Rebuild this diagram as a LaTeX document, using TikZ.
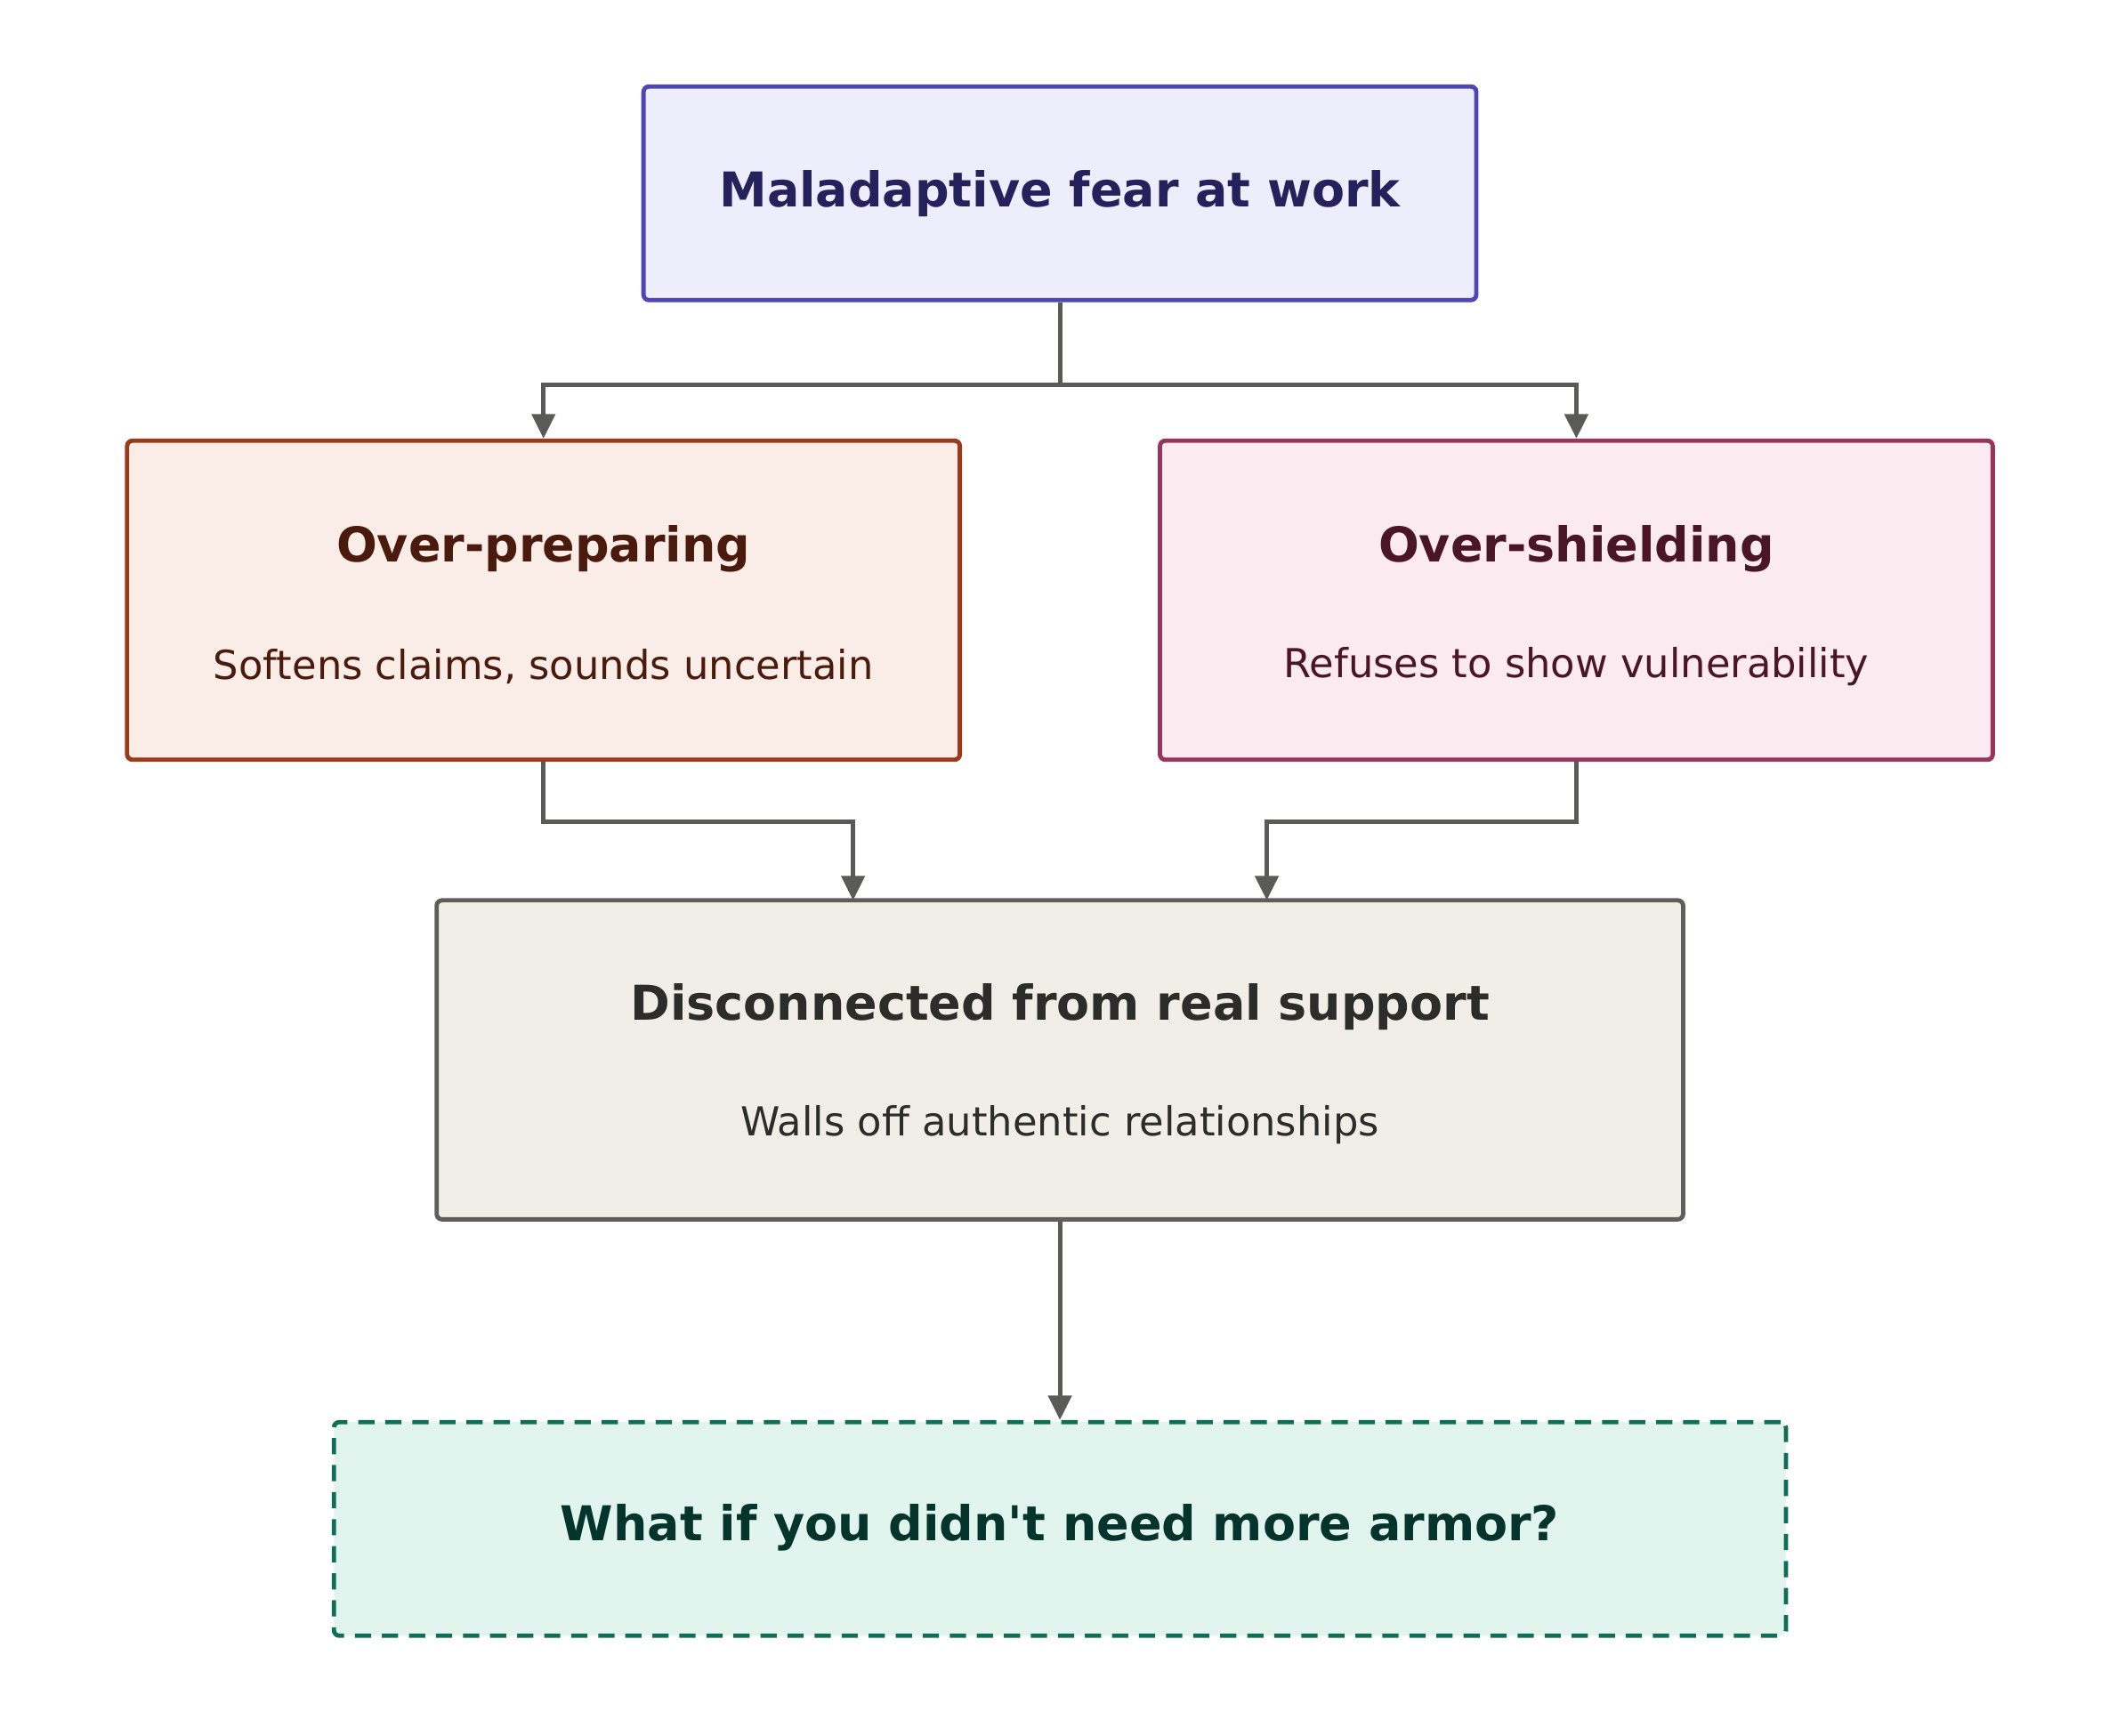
\documentclass[tikz,border=0pt]{standalone}
\usepackage{fontspec}
\setmainfont{DejaVu Sans}
\usetikzlibrary{arrows.meta}
\definecolor{tF}{HTML}{EEEDFC}\definecolor{tD}{HTML}{4F46B5}\definecolor{tT}{HTML}{26215C}
\definecolor{lF}{HTML}{FAEDE8}\definecolor{lD}{HTML}{9A3A1A}\definecolor{lT}{HTML}{4A1B0C}
\definecolor{rF}{HTML}{FBEAF0}\definecolor{rD}{HTML}{99355A}\definecolor{rT}{HTML}{4B1528}
\definecolor{mF}{HTML}{F1EEE7}\definecolor{mD}{HTML}{5F5E5A}\definecolor{mT}{HTML}{2C2C2A}
\definecolor{bF}{HTML}{E1F5EE}\definecolor{bD}{HTML}{0F6E56}\definecolor{bT}{HTML}{04342C}
\definecolor{eC}{HTML}{5A5A58}
\begin{document}
\begin{tikzpicture}[x=1pt,y=-1pt,
  box/.style={draw,line width=3.2pt,rounded corners=4pt,inner sep=0pt},
  ttl/.style={font=\fontsize{35.5}{42}\selectfont\bfseries},
  sub/.style={font=\fontsize{29.5}{35}\selectfont},
  edge/.style={draw=eC,line width=3.2pt,-{Triangle[length=18pt,width=17pt]}}]
\useasboundingbox (0,0) rectangle (1560,1284);
\node[box,draw=tD,fill=tF,minimum width=616,minimum height=158] (top) at (784,143) {};
\node[ttl,text=tT] (topt) at (784,143) {Maladaptive fear at work};
\node[box,draw=lD,fill=lF,minimum width=616,minimum height=236] (left) at (402,444) {};
\node[ttl,text=lT] (leftt) at (402,406) {Over-preparing};
\node[sub,text=lT] (lefts) at (402,493) {Softens claims, sounds uncertain};
\node[box,draw=rD,fill=rF,minimum width=616,minimum height=236] (right) at (1166,444) {};
\node[ttl,text=rT] (rightt) at (1166,406) {Over-shielding};
\node[sub,text=rT] (rights) at (1166,493) {Refuses to show vulnerability};
\node[box,draw=mD,fill=mF,minimum width=922,minimum height=236] (mid) at (784,784) {};
\node[ttl,text=mT] (midt) at (784,745) {Disconnected from real support};
\node[sub,text=mT] (mids) at (784,832) {Walls off authentic relationships};
\node[box,draw=bD,fill=bF,dashed,dash pattern=on 12pt off 8pt,minimum width=1074,minimum height=158] (bot) at (784,1131) {};
\node[ttl,text=bT] (bott) at (784,1130) {What if you didn\textquotesingle t need more armor?};
\coordinate (ml) at (631,666); \coordinate (mr) at (937,666);
\draw[edge] (top.south) -- ++(0,61) -| (left.north);
\draw[edge] (top.south) -- ++(0,61) -| (right.north);
\draw[edge] (left.south) -- ++(0,44) -| (ml);
\draw[edge] (right.south) -- ++(0,44) -| (mr);
\draw[edge] (mid.south) -- (bot.north);
\end{tikzpicture}
\end{document}
